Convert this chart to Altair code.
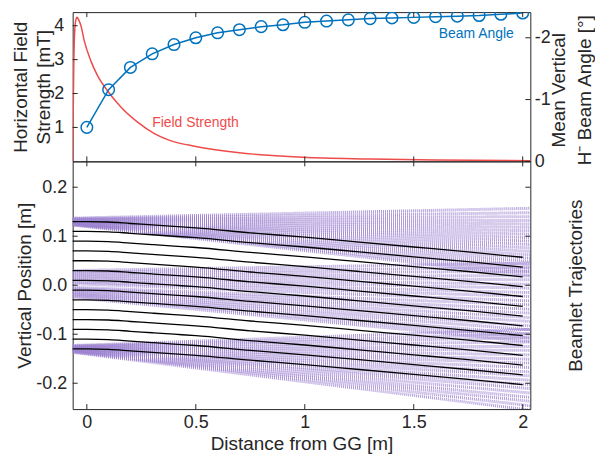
import altair as alt
import pandas as pd

FONT = "Liberation Sans"
INK = "#262626"
RED = "#EE4B4B"
BLUE = "#0072BD"
PURPLE = "#9A80CF"

X_DOMAIN = [-0.065, 2.035]
W = 460
H_TOP = 150
H_BOT = 249
TOP_LEFT_DOMAIN = [0, 4.40]
TOP_RIGHT_DOMAIN = [0, -2.415]
BOT_DOMAIN = [-0.2528, 0.2528]

# ---- top panel data ----
fs_x = [-0.065, -0.063, -0.060, -0.056, -0.051, -0.045, -0.038, -0.027, -0.012, 0.018, 0.049,
        0.094, 0.155, 0.23, 0.31, 0.38, 0.5, 0.69, 0.99, 1.3, 1.6, 2.035]
fs_v = [0.0, 1.2, 2.8, 3.8, 4.15, 4.25, 4.18, 4.0, 3.56, 2.97, 2.53,
        2.09, 1.61, 1.17, 0.82, 0.62, 0.44, 0.26, 0.12, 0.07, 0.04, 0.02]

ba_x = [0.0, 0.1, 0.2, 0.3, 0.4, 0.5, 0.6, 0.7, 0.8, 0.9, 1.0,
        1.1, 1.2, 1.3, 1.4, 1.5, 1.6, 1.7, 1.8, 1.9, 2.0]
ba_v = [-0.55, -1.16, -1.52, -1.74, -1.89, -2.00, -2.08, -2.13, -2.18, -2.21, -2.25,
        -2.27, -2.29, -2.31, -2.32, -2.33, -2.34, -2.35, -2.36, -2.38, -2.40]

x_ticks = [0, 0.5, 1, 1.5, 2]
top_left_ticks = [1, 2, 3, 4]
top_right_ticks = [0, -1, -2]
bot_ticks = [-0.2, -0.1, 0, 0.1, 0.2]

# ---- bottom panel data ----
black_start = [0.13, 0.11, 0.09, 0.07, 0.05, 0.03, 0.01, -0.01, -0.03, -0.05, -0.07, -0.09, -0.11, -0.13]
prof_x = [-0.065, 0.0, 0.1, 0.2, 0.3, 0.4, 0.5, 0.75, 1.0, 1.25, 1.5, 1.75, 2.0]
prof_drop = [0.0, 0.0, -0.001, -0.004, -0.007, -0.010, -0.013, -0.023, -0.032, -0.042, -0.052, -0.062, -0.073]

beam_x = [-0.065, 2.035]
top_start = [0.137, 0.136, 0.135, 0.135, 0.134, 0.133, 0.132, 0.131, 0.130, 0.130,
             0.129, 0.128, 0.127, 0.126, 0.125, 0.125, 0.124, 0.124, 0.123, 0.123]
top_end = [0.157, 0.148, 0.140, 0.132, 0.125, 0.118, 0.111, 0.104, 0.097, 0.090,
           0.083, 0.076, 0.069, 0.062, 0.055, 0.048, 0.041, 0.034, 0.027, 0.020]
mid_start = [0.030, 0.027, 0.024, 0.021, 0.018, 0.015, 0.012, 0.009, 0.006, 0.003,
             -0.004, -0.006, -0.009, -0.011, -0.014, -0.016, -0.018, -0.020, -0.022, -0.025]
mid_end = [0.045, 0.036, 0.028, 0.019, 0.011, 0.002, -0.006, -0.015, -0.023, -0.032,
           -0.040, -0.049, -0.057, -0.066, -0.074, -0.083, -0.091, -0.100, -0.108, -0.115]
bot_start = [-0.123, -0.124, -0.124, -0.125, -0.126, -0.127, -0.127, -0.128, -0.129, -0.130,
             -0.130, -0.131, -0.132, -0.133, -0.133, -0.134, -0.135, -0.136, -0.136, -0.137]
bot_end = [-0.090, -0.099, -0.107, -0.116, -0.125, -0.133, -0.142, -0.151, -0.159, -0.168,
           -0.177, -0.185, -0.194, -0.203, -0.211, -0.220, -0.229, -0.237, -0.246, -0.255]

# ---- tables ----
fs_df = pd.DataFrame({"x": fs_x, "v": fs_v})
ba_df = pd.DataFrame({"x": ba_x, "v": ba_v})

rows = []
for name, st, en in [("t", top_start, top_end), ("m", mid_start, mid_end), ("b", bot_start, bot_end)]:
    for i, (a, b) in enumerate(zip(st, en)):
        rows.append({"id": f"{name}{i}", "x": beam_x[0], "y": a})
        rows.append({"id": f"{name}{i}", "x": beam_x[1], "y": b})
beam_df = pd.DataFrame(rows)

brows = []
for i, s in enumerate(black_start):
    for px, d in zip(prof_x, prof_drop):
        brows.append({"id": i, "x": px, "y": s + d})
black_df = pd.DataFrame(brows)

MINUS = "replace(datum.label, '\u2212', '-')"


def xs():
    return alt.Scale(domain=X_DOMAIN, nice=False, zero=False)


def ys(domain):
    return alt.Scale(domain=domain, nice=False, zero=False)


def xticks_layers(h):
    d = pd.DataFrame({"t": x_ticks})
    top = alt.Chart(d).mark_rule(color=INK, strokeWidth=1).encode(
        x=alt.X("t:Q", scale=xs(), axis=None), y=alt.value(0), y2=alt.value(5))
    bot = alt.Chart(d).mark_rule(color=INK, strokeWidth=1).encode(
        x=alt.X("t:Q", scale=xs(), axis=None), y=alt.value(h), y2=alt.value(h - 5))
    return [top, bot]


def yticks_layer(vals, domain, side, axis=None):
    d = pd.DataFrame({"t": vals})
    xa, xb = (0, 5) if side == "left" else (W, W - 5)
    return alt.Chart(d).mark_rule(color=INK, strokeWidth=1).encode(
        y=alt.Y("t:Q", scale=ys(domain), axis=axis),
        x=alt.value(xa), x2=alt.value(xb))


# ---- top panel ----
red_line = alt.Chart(fs_df).mark_line(color=RED, strokeWidth=1.5, interpolate="monotone", clip=True).encode(
    x=alt.X("x:Q", scale=xs(), axis=None),
    y=alt.Y("v:Q", scale=ys(TOP_LEFT_DOMAIN),
            axis=alt.Axis(orient="left", values=top_left_ticks, ticks=False, domain=False, grid=False,
                          labelFontSize=18, labelPadding=9, labelColor=INK,
                          title=["Horizontal Field", "Strength [mT]"], titleFontSize=19,
                          titleFontWeight="normal", titleColor=INK, titlePadding=0,
                          titleLineHeight=23)),
)
red_text = alt.Chart(pd.DataFrame({"x": [0.30], "v": [1.12], "t": ["Field Strength"]})).mark_text(
    color=RED, fontSize=14, align="left", baseline="middle").encode(
    x=alt.X("x:Q", scale=xs(), axis=None),
    y=alt.Y("v:Q", scale=ys(TOP_LEFT_DOMAIN), axis=None),
    text="t:N")

blue_line = alt.Chart(ba_df).mark_line(color=BLUE, strokeWidth=1.5).encode(
    x=alt.X("x:Q", scale=xs(), axis=None),
    y=alt.Y("v:Q", scale=ys(TOP_RIGHT_DOMAIN),
            axis=alt.Axis(orient="right", values=top_right_ticks, labelExpr=MINUS, ticks=False,
                          domain=False, grid=False, labelFontSize=18, labelPadding=4,
                          labelColor=INK,
                          title=["\u00a0" * 7 + "Mean Vertical", "H\u207b Beam Angle [\u00b0]"],
                          titleFontSize=19, titleFontWeight="normal", titleColor=INK,
                          titleAngle=270, titleBaseline="top", titleAlign="center",
                          titleX=19, titleY=78, titleLineHeight=26)),
)
blue_pts = alt.Chart(ba_df).mark_point(color=BLUE, filled=False, size=135, strokeWidth=1.5,
                                       opacity=1, clip=True).encode(
    x=alt.X("x:Q", scale=xs(), axis=None),
    y=alt.Y("v:Q", scale=ys(TOP_RIGHT_DOMAIN), axis=None))
blue_text = alt.Chart(pd.DataFrame({"x": [1.959], "v": [-2.06], "t": ["Beam Angle"]})).mark_text(
    color=BLUE, fontSize=14, align="right", baseline="middle").encode(
    x=alt.X("x:Q", scale=xs(), axis=None),
    y=alt.Y("v:Q", scale=ys(TOP_RIGHT_DOMAIN), axis=None),
    text="t:N")

top = alt.layer(
    red_line, blue_line, red_text, blue_pts, blue_text,
    yticks_layer(top_left_ticks, TOP_LEFT_DOMAIN, "left"),
    yticks_layer(top_right_ticks, TOP_RIGHT_DOMAIN, "right"),
    *xticks_layers(H_TOP),
).resolve_scale(y="independent").properties(width=W, height=H_TOP)

# ---- bottom panel ----
purple = alt.Chart(beam_df).mark_line(color=PURPLE, strokeWidth=3, strokeDash=[1, 1],
                                      opacity=0.8, clip=True).encode(
    x=alt.X("x:Q", scale=xs(),
            axis=alt.Axis(orient="bottom", values=x_ticks, format="~g", ticks=False, domain=False,
                          grid=False, labelFontSize=18, labelPadding=4, labelColor=INK,
                          title="Distance from GG [m]", titleFontSize=19,
                          titleFontWeight="normal", titleColor=INK, titlePadding=4)),
    y=alt.Y("y:Q", scale=ys(BOT_DOMAIN),
            axis=alt.Axis(orient="left", values=bot_ticks, labelExpr=MINUS, ticks=False, domain=False,
                          grid=False, labelFontSize=18, labelPadding=6, labelColor=INK,
                          title="Vertical Position [m]", titleFontSize=19,
                          titleFontWeight="normal", titleColor=INK, titlePadding=1)),
    detail="id:N",
)
black = alt.Chart(black_df).mark_line(color="#000000", strokeWidth=1.3, interpolate="monotone").encode(
    x=alt.X("x:Q", scale=xs(), axis=None),
    y=alt.Y("y:Q", scale=ys(BOT_DOMAIN), axis=None),
    detail="id:N")
br_ticks = yticks_layer(
    bot_ticks, BOT_DOMAIN, "right",
    axis=alt.Axis(orient="right", labels=False, ticks=False, domain=False, grid=False,
                  title="Beamlet Trajectories", titleFontSize=19,
                  titleFontWeight="normal", titleColor=INK, titleAngle=270,
                  titleBaseline="top", titlePadding=36))

bottom = alt.layer(
    purple, black, br_ticks,
    yticks_layer(bot_ticks, BOT_DOMAIN, "left"),
    *xticks_layers(H_BOT),
).resolve_scale(y="independent").resolve_axis(x="independent").properties(width=W, height=H_BOT)

chart = alt.vconcat(top, bottom, spacing=0, bounds="flush").properties(
    padding={"left": 3, "top": 0, "right": 0, "bottom": 0},
    background="white",
).configure(font=FONT).configure_view(stroke=INK, strokeWidth=1)

chart.save("out.html", embed_options={"renderer": "svg", "actions": False})
